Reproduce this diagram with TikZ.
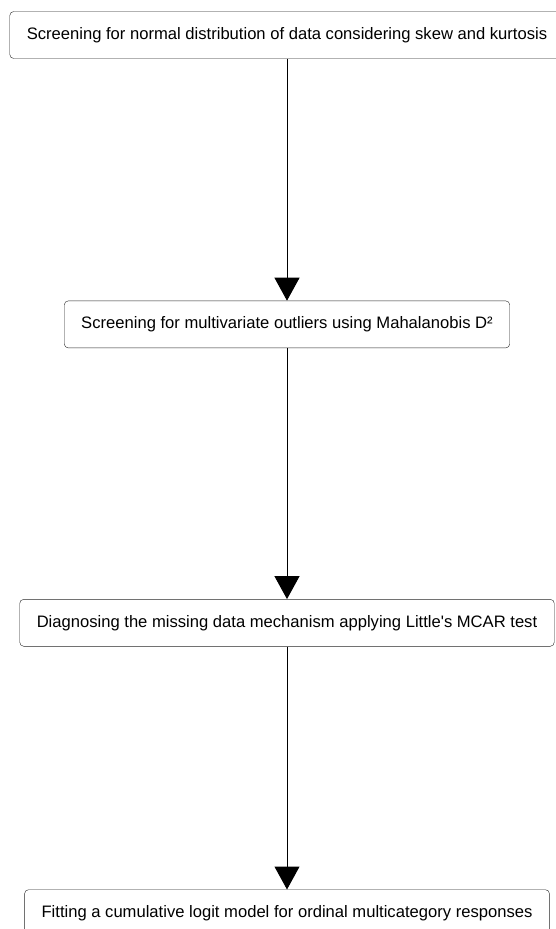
\documentclass[tikz,border=0pt]{standalone}
\usepackage{fontspec}
\setmainfont{Liberation Sans}
\usetikzlibrary{arrows.meta,positioning}

\begin{document}
\begin{tikzpicture}[x=1pt,y=1pt,>=Latex,
 stepbox/.style={draw=black!85,rounded corners=4pt,fill=white,inner xsep=17pt,minimum height=47pt,font=\fontsize{16.6}{20}\selectfont},
 arrow/.style={-{Triangle[width=25pt,length=23pt]},line width=1pt,draw=black}]
\useasboundingbox (0,0) rectangle (555,-929);
\node[stepbox] (screen) at (287,-35) {Screening for normal distribution of data considering skew and kurtosis};
\node[stepbox,below=242pt of screen] (outliers) {Screening for multivariate outliers using Mahalanobis D²};
\node[stepbox,below=251pt of outliers] (missing) {Diagnosing the missing data mechanism applying Little\textquotesingle s MCAR test};
\node[stepbox,below=243pt of missing] (logit) {Fitting a cumulative logit model for ordinal multicategory responses};
\draw[arrow] (screen)--(outliers);
\draw[arrow] (outliers)--(missing);
\draw[arrow] (missing)--(logit);
\end{tikzpicture}
\end{document}
